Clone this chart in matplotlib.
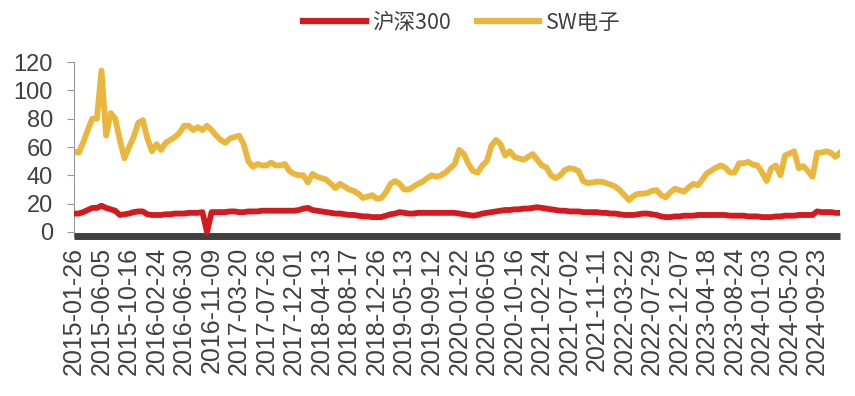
import matplotlib.pyplot as plt
import numpy as np

# sampled every 1/6 of a tick interval (ticks every 6 samples)
hs300 = [13, 13, 14, 15.5, 17, 17, 18.5, 17, 16, 15,
         12, 12.5, 13, 14, 14.5, 14.5, 12.5, 12, 12, 12,
         12.5, 12.5, 13, 13, 13, 13.5, 13.5, 13.5, 14, 0,
         14, 14, 14, 14, 14.5, 14.5, 14, 14, 14.5, 14.5,
         14.5, 15, 15, 15, 15, 15, 15, 15, 15, 15.5,
         16.5, 17, 15.5, 15, 14.5, 14, 13.5, 13, 13, 12.5,
         12, 12, 11.5, 11, 11, 10.5, 10.5, 10.5, 11.5, 12.5,
         13, 14, 13.5, 13, 13, 13.5, 13.5, 13.5, 13.5, 13.5,
         13.5, 13.5, 13.5, 13.5, 13, 12.5, 12, 11.5, 12, 13,
         13.5, 14, 14.5, 15, 15.5, 15.5, 16, 16, 16.5, 16.5,
         17, 17.5, 17, 16.5, 16, 15.5, 15, 15, 14.5, 14.5,
         14.5, 14, 14, 14, 14, 13.5, 13.5, 13, 13, 12.5,
         12, 12, 12, 12.5, 13, 13, 12.5, 12, 11, 10.5,
         10.5, 11, 11, 11.5, 11.5, 11.5, 12, 12, 12, 12,
         12, 12, 12, 11.5, 11.5, 11.5, 11.5, 11, 11, 11,
         10.5, 10.5, 10.5, 11, 11, 11.5, 11.5, 11.5, 12, 12,
         12, 12, 14.5, 14, 14, 14, 13.5, 13.5]

sw_dianzi = [57, 56, 63, 72, 80, 80, 114, 68, 84, 80,
             65, 52, 60, 67, 77, 79, 66, 57, 62, 58,
             63, 65, 67, 70, 75, 75, 72, 74, 72, 75,
             72, 68, 65, 63, 66, 67, 68, 62, 50, 46,
             48, 47, 47, 49, 47, 47, 48, 43, 41, 40,
             40, 35, 41, 39, 38, 37, 34, 31, 34, 32,
             30, 29, 27, 24, 25, 26, 23.5, 24, 28, 34,
             36, 34, 30, 30, 32, 34, 35.5, 38, 40, 39,
             40, 42, 45, 48, 58, 55, 48, 43, 42, 47,
             50, 61, 65, 62, 54, 57, 53, 52, 51, 53,
             55, 51, 47, 45.5, 40, 38, 40, 43.8, 45, 44.5,
             43, 36, 34.5, 35, 35.5, 35.5, 34.5, 33.5, 32, 29.5,
             26, 22.5, 25.5, 27, 27, 27.5, 29, 29.5, 26, 24.5,
             28, 30.5, 29.5, 28.5, 31.5, 34, 33, 37, 41.5, 43.5,
             45.5, 47, 45.5, 42, 42, 48.5, 48.5, 49.5, 47.5, 47,
             42, 36, 45, 47, 40, 54, 55.5, 57, 45, 46.5,
             43, 39, 56, 56, 57, 56, 53, 56]

tick_labels = ['2015-01-26', '2015-06-05', '2015-10-16', '2016-02-24', '2016-06-30',
               '2016-11-09', '2017-03-20', '2017-07-26', '2017-12-01', '2018-04-13',
               '2018-08-17', '2018-12-26', '2019-05-13', '2019-09-12', '2020-01-22',
               '2020-06-05', '2020-10-16', '2021-02-24', '2021-07-02', '2021-11-11',
               '2022-03-22', '2022-07-29', '2022-12-07', '2023-04-18', '2023-08-24',
               '2024-01-03', '2024-05-20', '2024-09-23']

plt.rcParams['font.family'] = ['Liberation Sans', 'Noto Sans CJK SC', 'DejaVu Sans']

red = '#D6191F'
gold = '#EAB63B'
grey_text = '#404040'

x = np.arange(len(hs300))

fig = plt.figure(figsize=(8.55, 3.96), dpi=100)
ax = fig.add_axes([0.0865, 0.4053, 0.896, 0.438])

ax.plot(x, hs300, color=red, lw=4.2, label='沪深300', zorder=3)
ax.plot(x, sw_dianzi, color=gold, lw=4.2, label='SW电子', zorder=2)

ax.set_xlim(0, len(hs300) - 1)
ax.set_ylim(-2.5, 120)
ax.set_yticks(np.arange(0, 121, 20))
ax.set_xticks(x[::6][:len(tick_labels)])
ax.set_xticklabels(tick_labels, rotation=90)

ax.tick_params(axis='y', labelsize=17, labelcolor=grey_text, color='#999999',
               length=5, width=0.8, pad=10)
ax.tick_params(axis='x', labelsize=18, labelcolor=grey_text, length=0, pad=8)

for s in ['top', 'right']:
    ax.spines[s].set_visible(False)
ax.spines['left'].set_color('#999999')
ax.spines['left'].set_linewidth(0.8)
ax.spines['bottom'].set_color('#404040')
ax.spines['bottom'].set_linewidth(5)
ax.spines['bottom'].set_capstyle('butt')

leg = fig.legend(loc='center', bbox_to_anchor=(0.54, 0.942), ncol=2, frameon=False,
                 handlelength=2.9, handletextpad=0.3, columnspacing=1.2,
                 prop={'family': ['Noto Sans CJK SC'], 'size': 15.5})
for line in leg.get_lines():
    line.set_linewidth(4.5)
for t in leg.get_texts():
    t.set_color(grey_text)

fig.savefig('out.png', dpi=100)
